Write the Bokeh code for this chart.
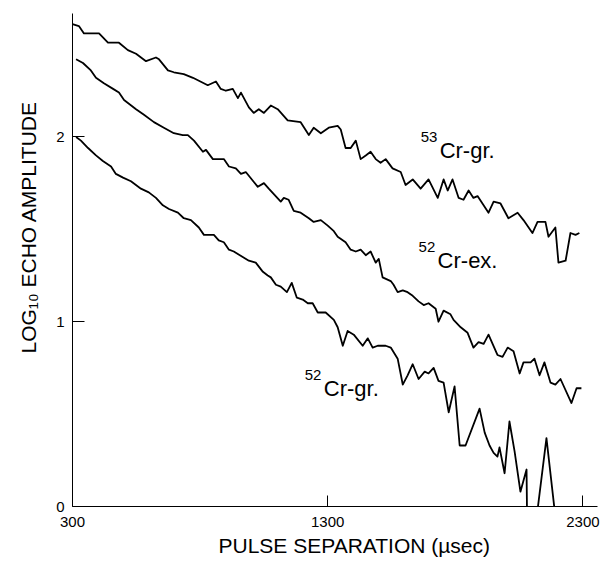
import math
from bokeh.plotting import figure
from bokeh.models import Range1d, FixedTicker, Title
from bokeh.core.properties import value
from bokeh.embed import file_html
from bokeh.resources import INLINE

# ---- data (pulse separation in microseconds, log10 echo amplitude) ----
cr53_x = [300, 325, 345, 372, 404, 439, 459, 482, 517, 549, 588, 627, 639, 674, 697,
          736, 772, 830, 862, 881, 901, 928, 948, 960, 991, 1010, 1030, 1050, 1077, 1104,
          1143, 1194, 1226, 1245, 1273, 1304, 1339, 1351, 1370, 1390, 1410, 1429, 1449, 1468, 1488,
          1507, 1527, 1554, 1586, 1605, 1633, 1664, 1695, 1731, 1754, 1770, 1789, 1813, 1832, 1852,
          1871, 1887, 1930, 1950, 1977, 2008, 2044, 2067, 2102, 2122, 2153, 2165, 2192, 2204, 2232,
          2251, 2271, 2286]
cr53_y = [2.61, 2.60, 2.56, 2.56, 2.56, 2.51, 2.51, 2.51, 2.47, 2.45, 2.41, 2.43, 2.42, 2.36, 2.35,
          2.34, 2.32, 2.28, 2.30, 2.26, 2.25, 2.26, 2.21, 2.24, 2.16, 2.13, 2.15, 2.13, 2.17, 2.15,
          2.09, 2.08, 2.01, 2.05, 2.02, 2.05, 2.06, 2.04, 1.94, 1.94, 1.98, 1.88, 1.90, 1.92, 1.88,
          1.86, 1.88, 1.83, 1.81, 1.74, 1.77, 1.72, 1.77, 1.67, 1.77, 1.71, 1.77, 1.67, 1.66, 1.71,
          1.67, 1.68, 1.59, 1.65, 1.64, 1.56, 1.59, 1.55, 1.48, 1.54, 1.54, 1.46, 1.51, 1.32, 1.33,
          1.48, 1.47, 1.48]

cr52ex_x = [314, 341, 372, 392, 423, 459, 482, 502, 521, 549, 580, 619, 658, 697, 732,
            752, 776, 811, 823, 850, 893, 913, 940, 960, 979, 1026, 1050, 1069, 1116, 1128,
            1147, 1167, 1194, 1226, 1245, 1273, 1300, 1324, 1339, 1370, 1390, 1410, 1429, 1449, 1468,
            1488, 1500, 1515, 1547, 1558, 1574, 1594, 1613, 1633, 1656, 1676, 1695, 1723, 1734, 1754,
            1781, 1793, 1821, 1848, 1871, 1891, 1911, 1930, 1965, 1985, 2005, 2028, 2052, 2067, 2095,
            2110, 2130, 2149, 2173, 2192, 2212, 2255, 2275, 2294]
cr52ex_y = [2.42, 2.40, 2.36, 2.32, 2.29, 2.26, 2.24, 2.20, 2.18, 2.15, 2.12, 2.08, 2.05, 2.02, 2.01,
            2.01, 1.98, 1.92, 1.93, 1.88, 1.88, 1.84, 1.83, 1.80, 1.81, 1.73, 1.75, 1.72, 1.65, 1.67,
            1.66, 1.60, 1.59, 1.56, 1.54, 1.55, 1.52, 1.49, 1.46, 1.43, 1.39, 1.38, 1.39, 1.36, 1.38,
            1.32, 1.34, 1.24, 1.22, 1.20, 1.16, 1.17, 1.16, 1.14, 1.11, 1.09, 1.10, 1.07, 1.00, 1.06,
            1.04, 1.01, 0.97, 0.94, 0.86, 0.89, 0.88, 0.93, 0.82, 0.81, 0.86, 0.84, 0.72, 0.78, 0.78,
            0.80, 0.71, 0.78, 0.67, 0.66, 0.69, 0.56, 0.64, 0.64]

cr52gr_x = [314, 333, 361, 392, 419, 451, 470, 498, 529, 568, 599, 627, 654, 678, 713,
            736, 764, 795, 815, 854, 873, 893, 913, 932, 967, 991, 1018, 1046, 1065, 1077,
            1097, 1116, 1140, 1159, 1179, 1202, 1222, 1241, 1261, 1292, 1324, 1339, 1359, 1378, 1402,
            1437, 1457, 1476, 1496, 1527, 1547, 1574, 1594, 1613, 1633, 1656, 1680, 1695, 1715, 1734,
            1754, 1774, 1797, 1817, 1840, 1895, 1915, 1934, 1950, 1965, 1973, 1993, 2012, 2032, 2055,
            2079, 2083, 2103, 2122, 2157, 2189]
cr52gr_y = [2.00, 1.98, 1.94, 1.90, 1.87, 1.84, 1.80, 1.78, 1.76, 1.72, 1.70, 1.67, 1.63, 1.61, 1.59,
            1.56, 1.55, 1.51, 1.47, 1.47, 1.44, 1.43, 1.39, 1.38, 1.35, 1.33, 1.32, 1.27, 1.25, 1.24,
            1.20, 1.19, 1.16, 1.21, 1.13, 1.12, 1.10, 1.10, 1.05, 1.05, 1.01, 0.97, 0.87, 0.95, 0.93,
            0.87, 0.91, 0.86, 0.87, 0.87, 0.86, 0.80, 0.66, 0.71, 0.77, 0.69, 0.73, 0.72, 0.75, 0.68,
            0.67, 0.51, 0.65, 0.33, 0.33, 0.53, 0.40, 0.33, 0.29, 0.27, 0.32, 0.18, 0.46, 0.30, 0.08,
            0.20, -0.30, -0.30, -0.02, 0.37, -0.02]

x_ticks = [300, 1300, 2300]
y_ticks = [0, 1, 2]

label_x = [1664, 1656, 1210]
label_y = [1.927, 1.332, 0.641]
label_sup = ["53", "52", "52"]
label_main = ["Cr-gr.", "Cr-ex.", "Cr-gr."]

x_title = "PULSE SEPARATION (\u00b5sec)"
y_title = "LOG\u2081\u2080 ECHO AMPLITUDE"

FONT = "Liberation Sans"

p = figure(width=603, height=563, output_backend="svg", toolbar_location=None,
           x_range=Range1d(300, 2357), y_range=Range1d(0, 2.668),
           min_border_left=72, min_border_right=6, min_border_top=13, min_border_bottom=57)
p.outline_line_color = None
p.grid.visible = False
p.background_fill_color = "white"
p.border_fill_color = "white"

for ax in (p.xaxis[0], p.yaxis[0]):
    ax.axis_line_color = "black"
    ax.axis_line_width = 1
    ax.major_tick_out = 0
    ax.minor_tick_line_color = None
    ax.major_tick_line_color = "black"
    ax.major_label_text_font = FONT
    ax.major_label_text_font_size = "15px"
    ax.major_label_text_color = "black"

p.xaxis.ticker = FixedTicker(ticks=x_ticks)
p.yaxis.ticker = FixedTicker(ticks=y_ticks)
p.xaxis.major_tick_in = 11
p.yaxis.major_tick_in = 12
p.xaxis.major_label_standoff = 10
p.yaxis.major_label_standoff = 8

for xs, ys in ((cr53_x, cr53_y), (cr52ex_x, cr52ex_y), (cr52gr_x, cr52gr_y)):
    p.line(xs, ys, line_color="black", line_width=1.8, line_join="round")

p.text(x=label_x, y=label_y, text=label_main, x_offset=19,
       text_font=value(FONT), text_font_size="22px", text_color="black",
       text_baseline="alphabetic", text_align="left")
p.text(x=label_x, y=label_y, text=label_sup, y_offset=-13,
       text_font=value(FONT), text_font_size="15px", text_color="black",
       text_baseline="alphabetic", text_align="left")

# axis titles
p.add_layout(Title(text=x_title, align="left", offset=146, standoff=4,
                   text_font=FONT, text_font_size="21px", text_font_style="normal",
                   text_color="black"), "below")
p.add_layout(Title(text=y_title, align="left", offset=153, standoff=28,
                   text_font=FONT, text_font_size="21px", text_font_style="normal",
                   text_color="black"), "left")

open("out.html", "w").write(file_html(p, INLINE))
